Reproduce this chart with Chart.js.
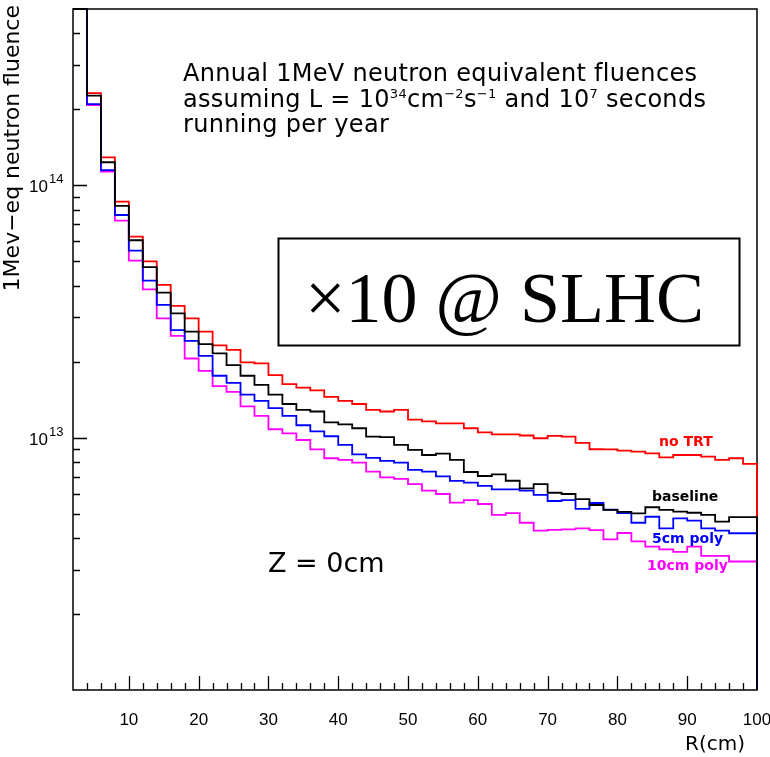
<!DOCTYPE html>
<html>
<head>
<meta charset="utf-8">
<script src="https://cdn.jsdelivr.net/npm/chart.js@4/dist/chart.umd.min.js"></script>
<style>
  html, body { margin: 0; padding: 0; background: #fff; }
  canvas { display: block; }
</style>
</head>
<body>
<canvas id="fluenceChart" width="770" height="757"></canvas>
<script>
// Radial bins in cm (low edges); the last bin closes at R_MAX
const rLow = [2, 4, 6, 8, 10, 12, 14, 16, 18, 20, 22, 24, 26, 28, 30, 32, 34, 36, 38, 40,
              42, 44, 46, 48, 50, 52, 54, 56, 58, 60, 62, 64, 66, 68, 70, 72, 74, 76, 78, 80,
              82, 84, 86, 88, 90, 92, 94, 96, 98];
const R_MAX = 100;

// 1 MeV-neq fluence per bin, in units of 1e13 cm^-2.
// First bin is off scale, so it sits on the frame top like ROOT draws it.
const noTRT = [50, 23.2, 12.9, 8.62, 6.26, 5.00, 4.03, 3.33, 2.97, 2.63,
               2.32, 2.23, 1.99, 1.97, 1.77, 1.63, 1.58, 1.54, 1.45, 1.40,
               1.36, 1.29, 1.27, 1.29, 1.18, 1.16, 1.14, 1.14, 1.09, 1.05,
               1.03, 1.03, 1.02, 0.995, 1.016, 1.01, 0.953, 0.900, 0.898, 0.888,
               0.880, 0.867, 0.836, 0.854, 0.854, 0.841, 0.816, 0.829, 0.787];
const baseline = [50, 22.7, 12.35, 8.29, 6.06, 4.74, 3.76, 3.11, 2.63, 2.35,
                  2.16, 1.94, 1.76, 1.62, 1.48, 1.36, 1.29, 1.27, 1.15, 1.13,
                  1.09, 1.01, 1.006, 0.936, 0.894, 0.854, 0.864, 0.816, 0.731, 0.705,
                  0.715, 0.675, 0.630, 0.655, 0.605, 0.598, 0.571, 0.541, 0.517, 0.508,
                  0.501, 0.530, 0.517, 0.509, 0.504, 0.494, 0.465, 0.484, 0.484];
const poly5cm = [50, 21.0, 11.5, 7.63, 5.51, 4.19, 3.36, 2.67, 2.42, 2.11,
                 1.76, 1.65, 1.48, 1.40, 1.31, 1.22, 1.12, 1.06, 1.013, 0.936,
                 0.858, 0.831, 0.809, 0.797, 0.745, 0.733, 0.702, 0.674, 0.663, 0.644,
                 0.624, 0.624, 0.617, 0.593, 0.561, 0.566, 0.522, 0.551, 0.519, 0.502,
                 0.460, 0.486, 0.437, 0.479, 0.469, 0.437, 0.428, 0.418, 0.418];
const poly10cm = [50, 20.8, 11.35, 7.25, 5.03, 3.87, 2.97, 2.53, 2.06, 1.84,
                  1.60, 1.52, 1.33, 1.22, 1.08, 1.04, 0.979, 0.899, 0.829, 0.816,
                  0.797, 0.733, 0.696, 0.687, 0.655, 0.617, 0.598, 0.553, 0.566, 0.546,
                  0.494, 0.502, 0.460, 0.428, 0.431, 0.433, 0.437, 0.430, 0.395, 0.419,
                  0.388, 0.370, 0.361, 0.353, 0.370, 0.340, 0.340, 0.323, 0.323];

const UNIT = 1e13;
const Y_MIN = 1e12;
const Y_MAX = 5e14;

// Tick labels
const xMajorTicks = [10, 20, 30, 40, 50, 60, 70, 80, 90, 100];
const yLabelExponents = [13, 14];

// Drawn in this order, first one on top
const series = [
    { label: 'baseline',  values: baseline, color: '#000000', labelPos: [652, 497] },
    { label: '5cm poly',  values: poly5cm,  color: '#0000ff', labelPos: [652, 539] },
    { label: '10cm poly', values: poly10cm, color: '#ff00ff', labelPos: [647, 566] },
    { label: 'no TRT',    values: noTRT,    color: '#ff0000', labelPos: [659, 442] }
];

// Step outline for a histogram: one point per low edge, then drop to the floor at R_MAX
function histPoints(values) {
    const pts = rLow.map((r, i) => ({ x: r, y: values[i] * UNIT }));
    pts.push({ x: R_MAX, y: Y_MIN });
    return pts;
}

// Text with superscript pieces, left to right from x
function drawRich(ctx, parts, x, y, size, supSize, rise, family) {
    let cx = x;
    parts.forEach(([txt, sup]) => {
        ctx.font = `${sup ? supSize : size}px ${family}`;
        ctx.fillText(txt, cx, sup ? y - rise : y);
        cx += ctx.measureText(txt).width;
    });
}

const SANS = '"DejaVu Sans", sans-serif';

// ROOT-style frame, inward ticks and all the text
const rootStyle = {
    id: 'rootStyle',
    beforeDatasetsDraw(chart) {
        const { ctx, chartArea: a, scales: { x, y } } = chart;
        ctx.save();
        ctx.strokeStyle = '#000';
        ctx.lineWidth = 1.5;
        ctx.strokeRect(a.left, a.top, a.right - a.left, a.bottom - a.top);

        ctx.lineWidth = 1.3;
        ctx.beginPath();
        for (let r = x.min + 2; r < x.max; r += 2) {
            const px = Math.round(x.getPixelForValue(r)) + 0.5;
            const len = r % 10 === 0 ? 14 : 7;
            ctx.moveTo(px, a.bottom);
            ctx.lineTo(px, a.bottom - len);
        }
        for (let e = 12; e <= 14; e++) {
            for (let m = 1; m <= 9; m++) {
                const v = m * Math.pow(10, e);
                if (v <= Y_MIN || v >= Y_MAX) continue;
                const py = Math.round(y.getPixelForValue(v)) + 0.5;
                ctx.moveTo(a.left, py);
                ctx.lineTo(a.left + (m === 1 ? 14 : 7), py);
            }
        }
        ctx.stroke();
        ctx.restore();
    },
    afterDraw(chart) {
        const { ctx, chartArea: a, scales: { x, y } } = chart;
        ctx.save();
        ctx.fillStyle = '#000';
        ctx.textBaseline = 'alphabetic';

        // x tick labels
        ctx.font = '17px "Liberation Sans", sans-serif';
        ctx.textAlign = 'center';
        xMajorTicks.forEach(v => {
            ctx.fillText(String(v), x.getPixelForValue(v), a.bottom + 35);
        });

        // y tick labels, 10^n
        yLabelExponents.forEach(e => {
            const py = y.getPixelForValue(Math.pow(10, e));
            ctx.font = '17px "Liberation Sans", sans-serif';
            ctx.textAlign = 'right';
            ctx.fillText('10', 48, py + 7);
            ctx.font = '13px "Liberation Sans", sans-serif';
            ctx.textAlign = 'left';
            ctx.fillText(String(e), 49, py - 2);
        });

        // axis titles
        ctx.font = '20px ' + SANS;
        ctx.textAlign = 'right';
        ctx.fillText('R(cm)', 745, 750);

        ctx.save();
        ctx.translate(19, 5);
        ctx.rotate(-Math.PI / 2);
        ctx.font = '22px ' + SANS;
        ctx.textAlign = 'right';
        ctx.fillText('1Mev\u2212eq neutron fluence', 0, 0);
        ctx.restore();

        // running conditions
        ctx.textAlign = 'left';
        ctx.letterSpacing = '0.3px';
        drawRich(ctx, [['Annual 1MeV neutron equivalent fluences']], 183, 81, 24, 13, 9, SANS);
        drawRich(ctx, [['assuming L = 10'], ['34', true], ['cm'], ['\u22122', true], ['s'],
                       ['\u22121', true], [' and 10'], ['7', true], [' seconds']],
                 183, 107, 24, 13, 9, SANS);
        drawRich(ctx, [['running per year']], 183, 132, 24, 13, 9, SANS);
        ctx.letterSpacing = '0px';

        ctx.font = '27px ' + SANS;
        ctx.fillText('Z = 0cm', 268, 572);

        // curve labels
        ctx.font = 'bold 14px ' + SANS;
        ctx.textBaseline = 'middle';
        series.forEach(s => {
            ctx.fillStyle = s.color;
            ctx.fillText(s.label, s.labelPos[0], s.labelPos[1]);
        });

        // SLHC scaling box
        ctx.strokeStyle = '#000';
        ctx.lineWidth = 2;
        ctx.strokeRect(278.5, 238.5, 461, 107);
        ctx.fillStyle = '#000';
        ctx.textBaseline = 'alphabetic';
        ctx.font = '72px "Liberation Serif", serif';
        ctx.fillText('\u00d710 @ SLHC', 305, 322);

        ctx.restore();
    }
};

new Chart(document.getElementById('fluenceChart').getContext('2d'), {
    type: 'line',
    data: {
        datasets: series.map(s => ({
            label: s.label,
            data: histPoints(s.values),
            borderColor: s.color,
            borderWidth: 1.8,
            pointRadius: 0,
            stepped: 'before',
            fill: false,
            clip: 2
        }))
    },
    options: {
        responsive: false,
        animation: false,
        events: [],
        layout: { padding: { left: 0, right: 13, top: 9, bottom: 0 } },
        plugins: {
            legend: { display: false },
            tooltip: { enabled: false }
        },
        scales: {
            x: {
                type: 'linear',
                min: 2,
                max: R_MAX,
                grid: { display: false, drawTicks: false },
                border: { display: false },
                ticks: { display: false },
                afterFit: s => { s.height = 67; }
            },
            y: {
                type: 'logarithmic',
                min: Y_MIN,
                max: Y_MAX,
                grid: { display: false, drawTicks: false },
                border: { display: false },
                ticks: { display: false },
                afterFit: s => { s.width = 73; }
            }
        }
    },
    plugins: [rootStyle]
});
</script>
</body>
</html>
